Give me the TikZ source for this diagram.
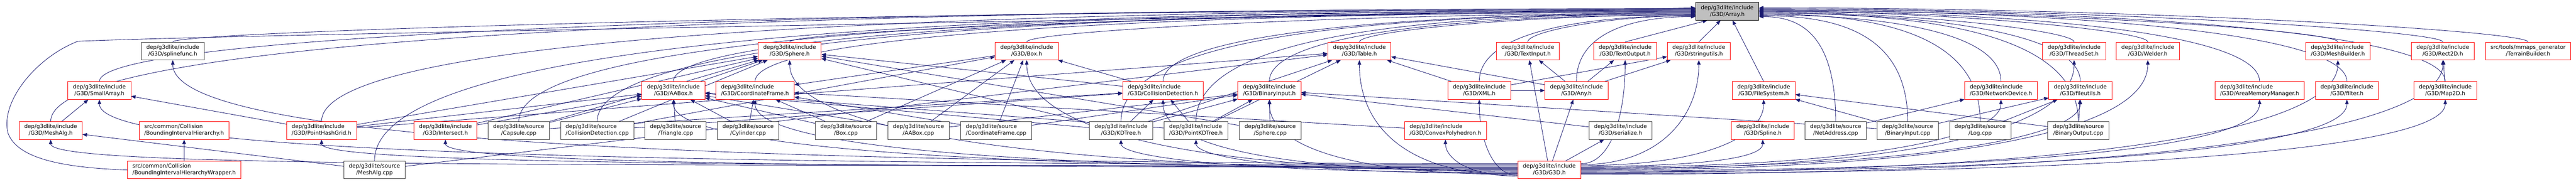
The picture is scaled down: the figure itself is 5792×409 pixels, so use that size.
\documentclass[tikz,border=0pt]{standalone}
\usepackage{fontspec}
\setmainfont{DejaVu Sans}
\usetikzlibrary{positioning,arrows.meta,calc}

\definecolor{edgeblue}{HTML}{191970}
\definecolor{boxgrey}{HTML}{404040}
\definecolor{focusgrey}{HTML}{BFBFBF}

\newcommand{\flabel}[2]{\begin{tabular}{@{}l@{}}#1\\\hfill#2\hfill\null\end{tabular}}
\newcommand{\glabel}[1]{\flabel{dep/g3dlite/include}{/G3D/#1}}
\newcommand{\slabel}[1]{\flabel{dep/g3dlite/source}{/#1}}

\pgfdeclarelayer{edges}
\pgfsetlayers{edges,main}

\begin{document}
\begin{tikzpicture}[x=1pt,y=-1pt,
  >={Triangle[length=10pt,width=8pt]},
  file/.style={draw,line width=1pt,fill=white,inner xsep=11.5pt,inner ysep=0pt,
    minimum height=40pt,font=\fontsize{12.3}{15}\selectfont},
  trunc/.style={file,draw=red},
  plain/.style={file,draw=boxgrey},
  focus/.style={file,draw=black,fill=focusgrey},
  edge/.style={->,color=edgeblue,line width=1pt}]
  \useasboundingbox (0,0) rectangle (5792,409);

  \node[focus] (arr) at (3883.5,25.5) {\glabel{Array.h}};

  \node[plain] (splf) at (388.5,115) {\glabel{splinefunc.h}};
  \node[trunc] (sph) at (1775.5,115) {\glabel{Sphere.h}};
  \node[trunc] (boxh) at (2308.5,115) {\glabel{Box.h}};
  \node[trunc] (tbl) at (3056.5,115) {\glabel{Table.h}};
  \node[trunc] (tin) at (3435,115) {\glabel{TextInput.h}};
  \node[trunc] (tout) at (3654,115) {\glabel{TextOutput.h}};
  \node[trunc] (stru) [right=23pt of tout] {\glabel{stringutils.h}};
  \node[trunc] (thr) at (4663.5,115) {\glabel{ThreadSet.h}};
  \node[trunc] (weld) [right=23pt of thr] {\glabel{Welder.h}};
  \node[trunc] (mb) at (5256.5,115) {\glabel{MeshBuilder.h}};
  \node[trunc] (r2d) at (5492.5,115) {\glabel{Rect2D.h}};
  \node[trunc] (terr) [right=24pt of r2d] {\flabel{src/tools/mmaps\_generator}{/TerrainBuilder.h}};

  \node[trunc] (sma) at (223.5,204) {\glabel{SmallArray.h}};
  \node[trunc] (aab) at (1514,204) {\glabel{AABox.h}};
  \node[trunc] (cfr) [right=24pt of aab] {\glabel{CoordinateFrame.h}};
  \node[trunc] (cdh) at (2615,204) {\glabel{CollisionDetection.h}};
  \node[trunc] (bin) at (2854,204) {\glabel{BinaryInput.h}};
  \node[trunc] (xml) at (3326,204) {\glabel{XML.h}};
  \node[trunc] (any) at (3544.5,204) {\glabel{Any.h}};
  \node[trunc] (fsys) at (3965.5,204) {\glabel{FileSystem.h}};
  \node[trunc] (ndev) at (4499,204) {\glabel{NetworkDevice.h}};
  \node[trunc] (futl) [right=25pt of ndev] {\glabel{fileutils.h}};
  \node[trunc] (amm) at (5080.5,204) {\glabel{AreaMemoryManager.h}};
  \node[trunc] (filt) [right=24pt of amm] {\glabel{filter.h}};
  \node[trunc] (m2d) at (5498,204) {\glabel{Map2D.h}};

  \node[trunc] (mal) at (114,294) {\glabel{MeshAlg.h}};
  \node[trunc] (bih) at (414,294) {\flabel{src/common/Collision}{/BoundingIntervalHierarchy.h}};
  \node[trunc] (phg) at (723,294) {\glabel{PointHashGrid.h}};
  \node[trunc] (isec) at (1001.5,294) {\glabel{Intersect.h}};
  \node[plain] (capc) [right=24pt of isec] {\slabel{Capsule.cpp}};
  \node[plain] (cdc) [right=24pt of capc] {\slabel{CollisionDetection.cpp}};
  \node[plain] (tric) [right=24pt of cdc] {\slabel{Triangle.cpp}};
  \node[plain] (cylc) [right=24pt of tric] {\slabel{Cylinder.cpp}};
  \node[plain] (boxc) at (1902,294) {\slabel{Box.cpp}};
  \node[plain] (aabc) [right=24pt of boxc] {\slabel{AABox.cpp}};
  \node[plain] (cfc) [right=25pt of aabc] {\slabel{CoordinateFrame.cpp}};
  \node[plain] (kdt) at (2520.5,294) {\glabel{KDTree.h}};
  \node[plain] (pkd) [right=25pt of kdt] {\glabel{PointKDTree.h}};
  \node[plain] (sphc) [right=25pt of pkd] {\slabel{Sphere.cpp}};
  \node[trunc] (cvx) at (3250,294) {\glabel{ConvexPolyhedron.h}};
  \node[plain] (ser) at (3643.5,294) {\glabel{serialize.h}};
  \node[trunc] (spl) at (3963.5,294) {\glabel{Spline.h}};
  \node[plain] (nac) [right=23pt of spl] {\slabel{NetAddress.cpp}};
  \node[plain] (binc) [right=23pt of nac] {\slabel{BinaryInput.cpp}};
  \node[plain] (logc) [right=24pt of binc] {\slabel{Log.cpp}};
  \node[plain] (boutc) at (4673,294) {\slabel{BinaryOutput.cpp}};

  \node[trunc] (bihw) at (414,383) {\flabel{src/common/Collision}{/BoundingIntervalHierarchyWrapper.h}};
  \node[plain] (malc) at (842,383) {\slabel{MeshAlg.cpp}};
  \node[trunc] (g3d) at (3483.5,383) {\glabel{G3D.h}};

  \begin{pgfonlayer}{edges}
    \draw[edge] (bihw.west) .. controls (150,378) and (40,360) .. (18,300)
      .. controls (0,230) and (80,130) .. (175,93)
      .. controls (600,75) and (3000,38) .. ([yshift=8pt]arr.west);

    \foreach \src/\side/\dy in {mal/west/6, sma/west/6, splf/west/4, phg/west/4,
        malc/west/2, capc/west/2, cdc/west/0, aab/west/0, cfr/west/-2, sph/west/-2,
        boxh/west/-4, cdh/west/-4, kdt/west/-6, pkd/west/-6, bin/west/-8, tbl/west/-8,
        xml/west/-10, tin/west/-10, any/west/-12,
        nac/east/-12, binc/east/-10, ndev/east/-8, logc/east/-6, futl/east/-4,
        boutc/east/-4, thr/east/-2, weld/east/0, amm/east/0, mb/east/2, filt/east/2,
        m2d/east/4, r2d/east/6, terr/east/8}
      \draw[edge] let \p1=(\src.north), \p2=([yshift=\dy pt]arr.\side) in
        (\p1) .. controls (\x1,70) and +({0.5*(\x1-\x2)},0) .. (\p2);

    \foreach \src/\dx in {tout/-45, stru/-15, fsys/12}
      \draw[edge] (\src.north) -- ([xshift=\dx pt]arr.south);

    \foreach \dst/\side/\dy/\h in {splf/west/14/160, sma/west/12/110, mal/west/10/60,
        phg/west/8/50, isec/west/6/50, aab/west/4/100, cfr/west/2/100, sph/west/0/150,
        boxh/west/-2/150, cdh/west/-4/100, kdt/west/-6/40, pkd/west/-8/40,
        bin/west/-10/100, tbl/west/-12/150, cvx/west/-14/40, xml/west/-12/80,
        tout/east/14/120, stru/east/12/120, fsys/east/10/80, spl/east/8/40,
        ndev/east/6/80, futl/east/4/80, thr/east/2/150, weld/east/0/150,
        amm/east/-2/100, filt/east/-4/100, mb/east/-6/150, m2d/east/-8/100,
        r2d/east/-10/150}
      \draw[edge] let \p1=([yshift=\dy pt]g3d.\side), \p2=(\dst.south) in
        (\p1) .. controls +({0.7*(\x2-\x1)},0) and +(0,\h) .. (\p2);

    \foreach \src/\dst in {mal/sma, phg/sma, malc/mal, bihw/bih, phg/sph, phg/aab,
        isec/aab, capc/aab, tric/aab, cylc/aab, aabc/aab, boxc/aab, kdt/aab, pkd/aab,
        aab/sph, capc/sph, cdc/sph, isec/sph, sphc/sph, cdh/sph, kdt/sph,
        cylc/cfr, boxc/cfr, cfc/cfr, boxh/cfr, cvx/cfr,
        cdc/boxh, boxc/boxh, aabc/boxh, cfc/boxh, cdh/boxh,
        cdc/cdh, kdt/cdh, pkd/cdh, capc/cdh,
        kdt/bin, pkd/bin, sphc/bin, aabc/bin, cfc/bin, binc/bin, ser/bin,
        phg/tbl, kdt/tbl, pkd/tbl, malc/tbl, xml/tbl, any/tbl,
        xml/any, xml/stru, any/tin, any/tout, any/stru,
        binc/fsys, boutc/fsys, nac/ndev, binc/futl, logc/futl, boutc/futl,
        m2d/r2d, g3d/tin, g3d/any, g3d/ser}
      \draw[edge] (\src) -- (\dst);
  \end{pgfonlayer}
\end{tikzpicture}
\end{document}
